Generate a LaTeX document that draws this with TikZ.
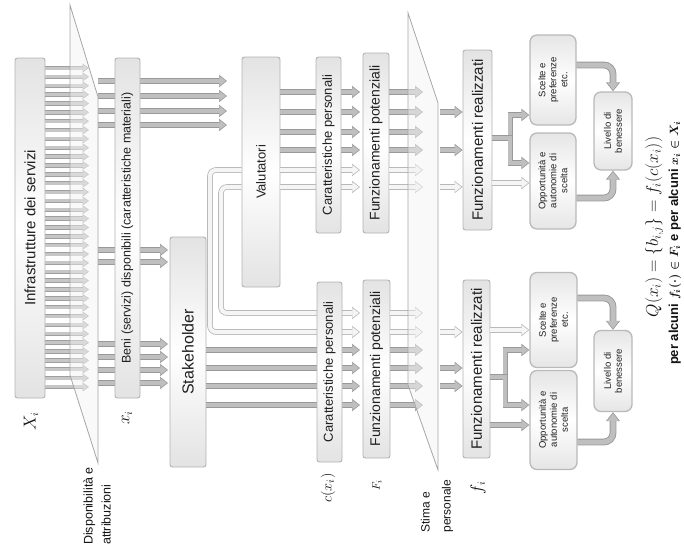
\documentclass[tikz,border=0pt]{standalone}
\usepackage{fontspec}
\setmainfont{Liberation Sans}
\usetikzlibrary{arrows.meta}
\begin{document}
\begin{tikzpicture}[x=1pt,y=-1pt,
  box/.style={draw=gray!60, line width=0.9pt, rounded corners=2.5pt, top color=gray!22, bottom color=gray!22, middle color=white, rotate=90, inner sep=1pt, align=center, text=gray!25!black},
  rbox/.style={draw=gray!55, line width=1.3pt, rounded corners=7pt, top color=gray!20, bottom color=gray!20, middle color=white, rotate=90, inner sep=1pt, align=center, text=gray!25!black, font=\fontsize{9.5}{11}\selectfont},
  sarr/.style={line width=3pt, draw=gray!45, shorten >=1pt, -{Triangle[length=5pt,width=6.5pt]}, preaction={draw=gray!75, line width=4.4pt, shorten >=0pt, -{Triangle[length=6.5pt,width=8.6pt]}}},
  darr/.style={line width=4pt, draw=gray!50, shorten >=1.2pt, -{Triangle[length=6.5pt,width=9.5pt]}, preaction={draw=gray!80, line width=5.6pt, shorten >=0pt, -{Triangle[length=8pt,width=12pt]}}},
  larr/.style={line width=4pt, draw=gray!8, shorten >=1.2pt, -{Triangle[length=6.5pt,width=9.5pt]}, preaction={draw=gray!55, line width=5.6pt, shorten >=0pt, -{Triangle[length=8pt,width=12pt]}}},
  carr/.style={line width=5pt, draw=gray!50, shorten >=1.2pt, rounded corners=9pt, -{Triangle[length=7.5pt,width=11pt]}, preaction={draw=gray!80, line width=6.8pt, shorten >=0pt, -{Triangle[length=9pt,width=13.5pt]}}},
  plane/.style={draw=gray!70, line width=0.8pt, fill=gray!10, fill opacity=0.45},
  lab/.style={rotate=90, text=gray!15!black, inner sep=1pt},
]
\useasboundingbox (0,0) rectangle (684,554);

% helper coordinates (x positions of free arrow ends)
\coordinate (P1m) at (89,0);
\coordinate (P1r) at (98,0);
\coordinate (Cin) at (168,0);
\coordinate (Vin) at (227,0);
\coordinate (Tend) at (360,0);
\coordinate (P2m) at (423,0);
\coordinate (P2r) at (440,0);

\path (30,228) node[box, minimum width=340pt, minimum height=30pt, font=\fontsize{15}{17}\selectfont] (A) {Infrastrutture dei servizi};
\path (127.5,228) coordinate (Bc);

% ---------- arrows from A into the plane
\foreach \k in {0,...,36} {
  \pgfmathsetmacro\yy{68+8.86*\k}
  \draw[sarr] (A.south |- 0,\yy) -- (P1m |- 0,\yy);
}
% through arrows to Valutatori
\foreach \y in {81,96,111,125} \draw[darr] (P1r |- 0,\y) -- (Vin |- 0,\y);
% through arrows to Stakeholder
\foreach \y in {250,262,344,357,370,383} \draw[darr] (P1r |- 0,\y) -- (Cin |- 0,\y);

% nodes
\node[box, minimum width=340pt, minimum height=25pt, font=\fontsize{12.5}{14}\selectfont] (B) at (Bc) {Beni (servizi) disponibili (caratteristiche materiali)};
\node[box, minimum width=230pt, minimum height=36pt, font=\fontsize{16}{18}\selectfont] (C) at (188,352) {Stakeholder};
\node[box, minimum width=230pt, minimum height=38pt, font=\fontsize{13}{15}\selectfont] (V) at (261,172) {Valutatori};

% pipes from Valutatori down to lower group
\draw[larr, rounded corners=6pt] (V.north |- 0,187) -| (221,313) -- (Tend |- 0,313);
\draw[larr, rounded corners=6pt] (V.north |- 0,170) -| (210,332) -- (Tend |- 0,332);
% Valutatori -> upper group
\foreach \y/\s in {92/darr,112/darr,132/darr,150/darr,170/larr,187/larr}
  \draw[\s] (V.south |- 0,\y) -- (Tend |- 0,\y);
% Stakeholder -> lower group
\foreach \y in {350,368,386,405} \draw[darr] (C.south |- 0,\y) -- (Tend |- 0,\y);

\node[box, minimum width=176pt, minimum height=25pt, font=\fontsize{13}{15}\selectfont] (CT) at (328.5,145) {Caratteristiche personali};
\node[box, minimum width=180pt, minimum height=25pt, font=\fontsize{13}{15}\selectfont] (CB) at (329.5,372) {Caratteristiche personali};
\node[box, minimum width=180pt, minimum height=26pt, font=\fontsize{14}{16}\selectfont] (FT) at (376,143) {Funzionamenti potenziali};
\node[box, minimum width=178pt, minimum height=27pt, font=\fontsize{14}{16}\selectfont] (FB) at (376.5,369) {Funzionamenti potenziali};
\node[box, minimum width=180pt, minimum height=29pt, font=\fontsize{15}{17}\selectfont] (RT) at (477.5,140) {Funzionamenti realizzati};
\node[box, minimum width=178pt, minimum height=27pt, font=\fontsize{15}{17}\selectfont] (RB) at (476.5,369) {Funzionamenti realizzati};

% potential -> choice plane
\foreach \y/\s in {92/darr,112/darr,132/darr,150/darr,170/larr,187/larr}
  \draw[\s] (FT.south |- 0,\y) -- (P2m |- 0,\y);
\foreach \y/\s in {313/larr,332/larr,350/darr,368/darr,386/darr,405/darr}
  \draw[\s] (FB.south |- 0,\y) -- (P2m |- 0,\y);
% plane -> realised
\foreach \y/\s in {112/darr,150/darr,187/larr}
  \draw[\s] (P2r |- 0,\y) -- (RT.north |- 0,\y);
\foreach \y/\s in {332/larr,368/darr,386/darr}
  \draw[\s] (P2r |- 0,\y) -- (RB.north |- 0,\y);

% planes
\draw[plane] (70,5) -- (98,97) -- (98,463) -- (70,375) -- cycle;
\draw[plane] (408,13) -- (438,103) -- (438,470) -- (408,385) -- cycle;

% right-hand boxes
\node[rbox, minimum width=90pt, minimum height=46pt] (S1) at (553,80) {Scelte e\\preferenze\\etc.};
\node[rbox, minimum width=96pt, minimum height=46pt] (O1) at (553,181) {Opportunità e\\autonomie di\\scelta};
\node[rbox, minimum width=78pt, minimum height=38pt] (L1) at (613,131) {Livello di\\benessere};
\node[rbox, minimum width=95pt, minimum height=47pt] (S2) at (553.5,320) {Scelte e\\preferenze\\etc.};
\node[rbox, minimum width=99pt, minimum height=47pt] (O2) at (553.5,420) {Opportunità e\\autonomie di\\scelta};
\node[rbox, minimum width=81pt, minimum height=38pt] (L2) at (613,371) {Livello di\\benessere};

% realised -> right boxes
\draw[larr] (RT.south |- 0,183) -- (O1.north |- 0,183);
\draw[darr] (RT.south |- 0,138) -- ++(18,0) |- (S1.north |- 0,115);
\draw[darr] (RT.south |- 0,138) -- ++(18,0) |- (O1.north |- 0,163);
\draw[larr] (RB.south |- 0,330) -- (S2.north |- 0,330);
\draw[darr] (RB.south |- 0,425) -- (O2.north |- 0,425);
\draw[darr] (RB.south |- 0,377) -- ++(15,0) |- (S2.north |- 0,350);
\draw[darr] (RB.south |- 0,377) -- ++(15,0) |- (O2.north |- 0,405);
% curved arrows into wellbeing
\draw[carr] (S1.south |- 0,65) -| (L1.east);
\draw[carr] (O1.south |- 0,198) -| (L1.west);
\draw[carr] (S2.south |- 0,298) -| (L2.east);
\draw[carr] (O2.south |- 0,442) -| (L2.west);

% labels
\node[lab, font=\fontsize{16}{18}\selectfont] (lX) at (31,421) {$X_i$};
\node[lab, font=\fontsize{16}{18}\selectfont] (lx) at (127,418) {$x_i$};
\node[lab, align=left, font=\fontsize{12.5}{18}\selectfont] (lD) at (97,506) {Disponibilità e\\attribuzioni};
\node[lab, font=\fontsize{15}{18}\selectfont] (lc) at (328,488) {$c(x_i)$};
\node[lab, font=\fontsize{11}{13}\selectfont] (lF) at (377,485) {$F_i$};
\node[lab, align=left, font=\fontsize{12}{21}\selectfont] (lS) at (437,506) {Stima e\\personale};
\node[lab, font=\fontsize{16}{18}\selectfont] (lf) at (478,488) {$f_i$};
\node[lab, font=\fontsize{17}{20}\selectfont] (Q) at (654,227) {$Q(x_i)=\{b_{i,j}\}=f_i(c(x_i))$};
\node[lab, font=\fontsize{13}{15}\selectfont\bfseries\boldmath] (Qd) at (675,243) {per alcuni $f_i(\cdot)\in F_i$ e per alcuni $x_i\in X_i$};
\end{tikzpicture}
\end{document}
